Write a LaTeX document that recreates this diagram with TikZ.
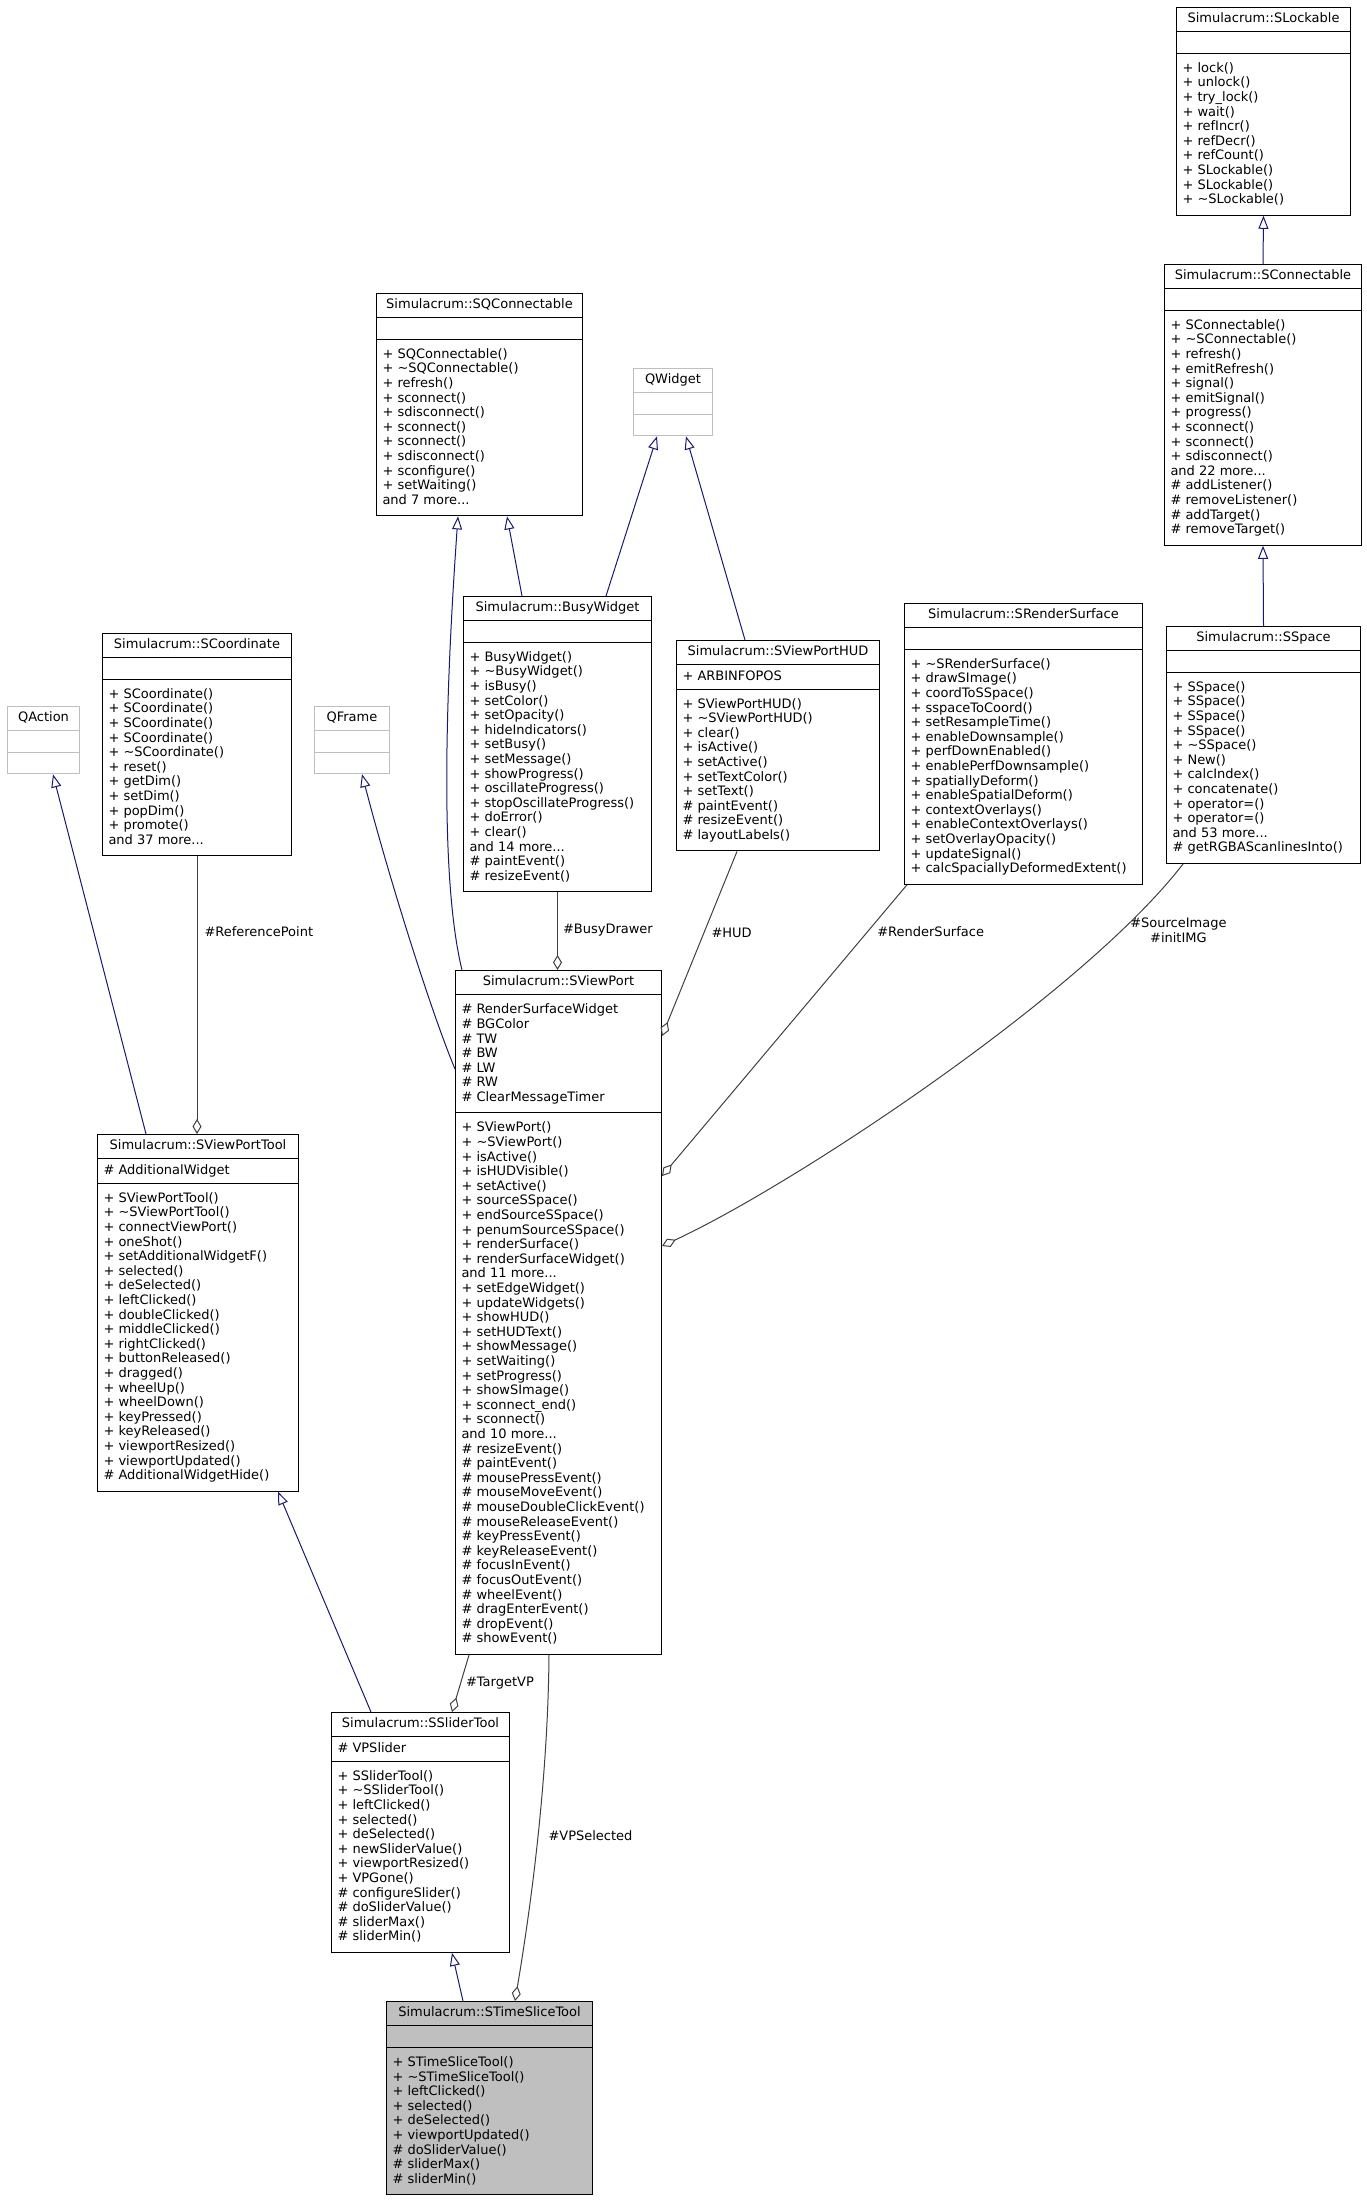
\documentclass[tikz,border=0pt]{standalone}
\usepackage{fontspec}
\newfontfamily\umlfont{DejaVu Sans}
\usetikzlibrary{shapes.multipart,arrows.meta}

\definecolor{inhblue}{HTML}{191970}
\definecolor{usegray}{HTML}{404040}
\definecolor{extgray}{HTML}{BFBFBF}

\newcommand{\clsfont}{\umlfont\fontsize{13}{14.6}\selectfont\lineskiplimit=-20pt\relax}
\newcommand{\ttl}[1]{\rule[-3.5pt]{0pt}{10.5pt}#1}
\newcommand{\mlist}[1]{\rule{0pt}{13.5pt}#1\rule[-6pt]{0pt}{6pt}}
\newcommand{\dtor}{\textasciitilde}

\begin{document}
\begin{tikzpicture}[x=1pt,y=-1pt,
  classbox/.style={rectangle split, rectangle split parts=3,
    rectangle split part align={center,left,left},
    rectangle split ignore empty parts=false,
    rectangle split empty part height=10.5pt, rectangle split empty part depth=3.5pt,
    draw=black, line width=1pt, fill=white, anchor=north west, align=left,
    inner xsep=6pt, inner ysep=5pt, font=\clsfont, minimum width=#1pt},
  extbox/.style={classbox=#1, draw=extgray},
  curbox/.style={classbox=#1, fill=extgray},
  inheritedge/.style={draw=inhblue, line width=1pt, -{Triangle[open,length=13pt,width=10pt]}},
  useedge/.style={draw=usegray, line width=1pt, -{Diamond[open,length=15pt,width=9pt]}},
  edgelabel/.style={font=\clsfont, inner sep=0pt, align=center}]
  \useasboundingbox (0,0) rectangle (1367,2200);

  % base classes, top row
  \node[classbox=174] (slock) at (1176,7) {\ttl{Simulacrum::SLockable}\nodepart{two}\ttl{}\nodepart{three}\mlist{%
    + lock()\\+ unlock()\\+ try\_lock()\\+ wait()\\+ refIncr()\\+ refDecr()\\+ refCount()\\
    + SLockable()\\+ SLockable()\\+ \dtor SLockable()}};
  \node[classbox=197] (scon) at (1164,264) {\ttl{Simulacrum::SConnectable}\nodepart{two}\ttl{}\nodepart{three}\mlist{%
    + SConnectable()\\+ \dtor SConnectable()\\+ refresh()\\+ emitRefresh()\\+ signal()\\+ emitSignal()\\
    + progress()\\+ sconnect()\\+ sconnect()\\+ sdisconnect()\\and 22 more...\\\# addListener()\\
    \# removeListener()\\\# addTarget()\\\# removeTarget()}};
  \node[classbox=206] (sqcon) at (376,293) {\ttl{Simulacrum::SQConnectable}\nodepart{two}\ttl{}\nodepart{three}\mlist{%
    + SQConnectable()\\+ \dtor SQConnectable()\\+ refresh()\\+ sconnect()\\+ sdisconnect()\\+ sconnect()\\
    + sconnect()\\+ sdisconnect()\\+ sconfigure()\\+ setWaiting()\\and 7 more...}};
  \node[extbox=79] (qwidget) at (633,368) {\ttl{QWidget}\nodepart{two}\ttl{}\nodepart{three}\ttl{}};

  % middle row
  \node[classbox=188] (busy) at (463,596) {\ttl{Simulacrum::BusyWidget}\nodepart{two}\ttl{}\nodepart{three}\mlist{%
    + BusyWidget()\\+ \dtor BusyWidget()\\+ isBusy()\\+ setColor()\\+ setOpacity()\\+ hideIndicators()\\
    + setBusy()\\+ setMessage()\\+ showProgress()\\+ oscillateProgress()\\+ stopOscillateProgress()\\
    + doError()\\+ clear()\\and 14 more...\\\# paintEvent()\\\# resizeEvent()}};
  \node[classbox=203] (hud) at (676,640) {\ttl{Simulacrum::SViewPortHUD}\nodepart{two}\ttl{+ ARBINFOPOS}\nodepart{three}\mlist{%
    + SViewPortHUD()\\+ \dtor SViewPortHUD()\\+ clear()\\+ isActive()\\+ setActive()\\+ setTextColor()\\
    + setText()\\\# paintEvent()\\\# resizeEvent()\\\# layoutLabels()}};
  \node[classbox=238] (rsurf) at (904,603) {\ttl{Simulacrum::SRenderSurface}\nodepart{two}\ttl{}\nodepart{three}\mlist{%
    + \dtor SRenderSurface()\\+ drawSImage()\\+ coordToSSpace()\\+ sspaceToCoord()\\+ setResampleTime()\\
    + enableDownsample()\\+ perfDownEnabled()\\+ enablePerfDownsample()\\+ spatiallyDeform()\\
    + enableSpatialDeform()\\+ contextOverlays()\\+ enableContextOverlays()\\+ setOverlayOpacity()\\
    + updateSignal()\\+ calcSpaciallyDeformedExtent()}};
  \node[classbox=194] (sspace) at (1166,626) {\ttl{Simulacrum::SSpace}\nodepart{two}\ttl{}\nodepart{three}\mlist{%
    + SSpace()\\+ SSpace()\\+ SSpace()\\+ SSpace()\\+ \dtor SSpace()\\+ New()\\+ calcIndex()\\
    + concatenate()\\+ operator=()\\+ operator=()\\and 53 more...\\\# getRGBAScanlinesInto()}};
  \node[extbox=72] (qaction) at (7,706) {\ttl{QAction}\nodepart{two}\ttl{}\nodepart{three}\ttl{}};
  \node[classbox=189] (scoord) at (102,633) {\ttl{Simulacrum::SCoordinate}\nodepart{two}\ttl{}\nodepart{three}\mlist{%
    + SCoordinate()\\+ SCoordinate()\\+ SCoordinate()\\+ SCoordinate()\\+ \dtor SCoordinate()\\
    + reset()\\+ getDim()\\+ setDim()\\+ popDim()\\+ promote()\\and 37 more...}};
  \node[extbox=75] (qframe) at (314,706) {\ttl{QFrame}\nodepart{two}\ttl{}\nodepart{three}\ttl{}};

  % the viewport and its tools
  \node[classbox=206] (vp) at (455,970) {\ttl{Simulacrum::SViewPort}\nodepart{two}\mlist{%
    \# RenderSurfaceWidget\\\# BGColor\\\# TW\\\# BW\\\# LW\\\# RW\\\# ClearMessageTimer}\nodepart{three}\mlist{%
    + SViewPort()\\+ \dtor SViewPort()\\+ isActive()\\+ isHUDVisible()\\+ setActive()\\+ sourceSSpace()\\
    + endSourceSSpace()\\+ penumSourceSSpace()\\+ renderSurface()\\+ renderSurfaceWidget()\\and 11 more...\\
    + setEdgeWidget()\\+ updateWidgets()\\+ showHUD()\\+ setHUDText()\\+ showMessage()\\+ setWaiting()\\
    + setProgress()\\+ showSImage()\\+ sconnect\_end()\\+ sconnect()\\and 10 more...\\\# resizeEvent()\\
    \# paintEvent()\\\# mousePressEvent()\\\# mouseMoveEvent()\\\# mouseDoubleClickEvent()\\
    \# mouseReleaseEvent()\\\# keyPressEvent()\\\# keyReleaseEvent()\\\# focusInEvent()\\
    \# focusOutEvent()\\\# wheelEvent()\\\# dragEnterEvent()\\\# dropEvent()\\\# showEvent()}};
  \node[classbox=201] (vptool) at (97,1134) {\ttl{Simulacrum::SViewPortTool}\nodepart{two}\ttl{\# AdditionalWidget}\nodepart{three}\mlist{%
    + SViewPortTool()\\+ \dtor SViewPortTool()\\+ connectViewPort()\\+ oneShot()\\+ setAdditionalWidgetF()\\
    + selected()\\+ deSelected()\\+ leftClicked()\\+ doubleClicked()\\+ middleClicked()\\+ rightClicked()\\
    + buttonReleased()\\+ dragged()\\+ wheelUp()\\+ wheelDown()\\+ keyPressed()\\+ keyReleased()\\
    + viewportResized()\\+ viewportUpdated()\\\# AdditionalWidgetHide()}};
  \node[classbox=178] (slider) at (331,1712) {\ttl{Simulacrum::SSliderTool}\nodepart{two}\ttl{\# VPSlider}\nodepart{three}\mlist{%
    + SSliderTool()\\+ \dtor SSliderTool()\\+ leftClicked()\\+ selected()\\+ deSelected()\\+ newSliderValue()\\
    + viewportResized()\\+ VPGone()\\\# configureSlider()\\\# doSliderValue()\\\# sliderMax()\\\# sliderMin()}};
  \node[curbox=206] (tslice) at (386,2001) {\ttl{Simulacrum::STimeSliceTool}\nodepart{two}\ttl{}\nodepart{three}\mlist{%
    + STimeSliceTool()\\+ \dtor STimeSliceTool()\\+ leftClicked()\\+ selected()\\+ deSelected()\\
    + viewportUpdated()\\\# doSliderValue()\\\# sliderMax()\\\# sliderMin()}};

  % inheritance
  \draw[inheritedge] (scon.north) -- (slock.south);
  \draw[inheritedge] (sspace.north) -- (scon.south);
  \draw[inheritedge] ([xshift=59pt]busy.north west) -- ([xshift=131pt]sqcon.south west);
  \draw[inheritedge] ([xshift=143pt]busy.north west) -- ([xshift=24pt]qwidget.south west);
  \draw[inheritedge] ([xshift=69pt]hud.north west) -- ([xshift=53pt]qwidget.south west);
  \draw[inheritedge] ([xshift=7pt]vp.north west) .. controls +(-22,-90) and +(-13,184) .. ([xshift=82pt]sqcon.south west);
  \draw[inheritedge] ([yshift=-99pt]vp.north west) .. controls +(-25,-60) and +(26,100) .. ([xshift=48pt]qframe.south west);
  \draw[inheritedge] ([xshift=49pt]vptool.north west) -- ([xshift=46pt]qaction.south west);
  \draw[inheritedge] ([xshift=40pt]slider.north west) -- ([xshift=181pt]vptool.south west);
  \draw[inheritedge] ([xshift=77pt]tslice.north west) -- ([xshift=121pt]slider.south west);

  % usage
  \draw[useedge] (scoord.south) -- (scoord.south |- vptool.north)
    node[edgelabel, pos=0.27, right=7pt] (lblref) {\#ReferencePoint};
  \draw[useedge] (busy.south) -- (busy.south |- vp.north)
    node[edgelabel, pos=0.49, right=5pt] (lblbusy) {\#BusyDrawer};
  \draw[useedge] ([xshift=61pt]hud.south west) -- ([yshift=-66pt]vp.north east)
    node[edgelabel, pos=0.44, right=7pt] (lblhud) {\#HUD};
  \draw[useedge] ([xshift=3pt]rsurf.south west) -- ([yshift=-206pt]vp.north east)
    node[edgelabel, pos=0.16, right=9pt] (lblrs) {\#RenderSurface};
  \draw[useedge] ([xshift=17pt]sspace.south west) .. controls +(-100,130) and +(130,-60) .. ([yshift=-276pt]vp.north east)
    node[edgelabel, pos=0.16, right=8pt] (lblsrc) {\#SourceImage\\\#initIMG};
  \draw[useedge] ([xshift=14pt]vp.south west) -- ([xshift=121pt]slider.north west)
    node[edgelabel, pos=0.5, right=5pt] (lbltgt) {\#TargetVP};
  \draw[useedge] ([xshift=94pt]vp.south west) .. controls +(-1,121) and +(17,-101) .. ([xshift=129pt]tslice.north west)
    node[edgelabel, pos=0.5, right=10pt] (lblvps) {\#VPSelected};
\end{tikzpicture}
\end{document}
